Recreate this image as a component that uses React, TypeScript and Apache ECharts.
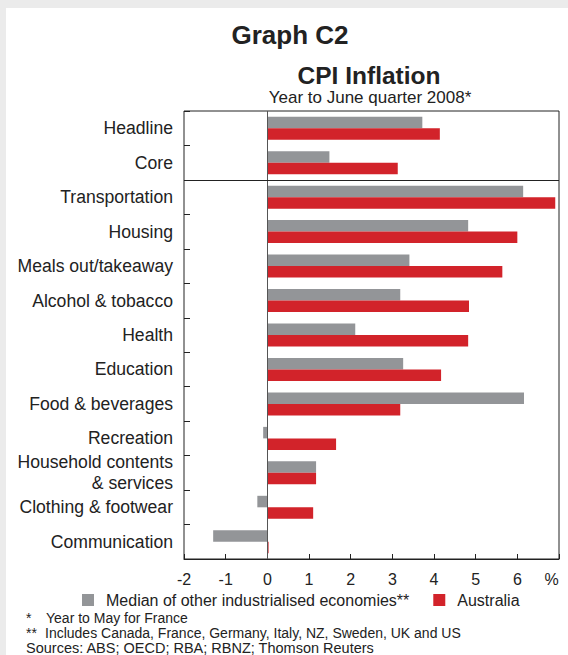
import React, { useEffect, useRef } from "react";
import * as echarts from "echarts";

const categories = [
  "Headline",
  "Core",
  "Transportation",
  "Housing",
  "Meals out/takeaway",
  "Alcohol & tobacco",
  "Health",
  "Education",
  "Food & beverages",
  "Recreation",
  "Household contents\n& services",
  "Clothing & footwear",
  "Communication",
];
const medianValues = [3.72, 1.49, 6.14, 4.82, 3.41, 3.19, 2.11, 3.26, 6.16, -0.1, 1.17, -0.24, -1.3];
const australiaValues = [4.14, 3.13, 6.91, 6.0, 5.64, 4.84, 4.82, 4.17, 3.19, 1.65, 1.17, 1.1, 0.03];
const xTicks = [-2, -1, 0, 1, 2, 3, 4, 5, 6, 7];

const FONT = "'Liberation Sans', Arial, Helvetica, sans-serif";
const GRAY = "#939598";
const RED = "#d2232a";

export default function App() {
  const ref = useRef<HTMLDivElement>(null);
  useEffect(() => {
    document.body.style.margin = "0";
    const chart = echarts.init(ref.current!, undefined, { renderer: "svg" });
    const graphic: any[] = [
      { id: "bg", type: "rect", z: -10, shape: { x: 6, y: 8, width: 562, height: 647 }, style: { fill: "#ffffff" }, silent: true },
      { id: "t1", type: "text", x: 290, y: 35, style: { text: "Graph C2", font: `bold 26px ${FONT}`, fill: "#222", align: "center", verticalAlign: "middle" } },
      { id: "t2", type: "text", x: 369, y: 75, style: { text: "CPI Inflation", font: `bold 24.5px ${FONT}`, fill: "#222", align: "center", verticalAlign: "middle" } },
      { id: "t3", type: "text", x: 370, y: 97, style: { text: "Year to June quarter 2008*", font: `17px ${FONT}`, fill: "#222", align: "center", verticalAlign: "middle" } },
      { id: "f1a", type: "text", x: 26, y: 618, style: { text: "*", font: `14px ${FONT}`, fill: "#222", verticalAlign: "middle" } },
      { id: "f1b", type: "text", x: 46, y: 618, style: { text: "Year to May for France", font: `14px ${FONT}`, fill: "#222", verticalAlign: "middle" } },
      { id: "f2a", type: "text", x: 26, y: 633, style: { text: "**", font: `14px ${FONT}`, fill: "#222", verticalAlign: "middle" } },
      { id: "f2b", type: "text", x: 45, y: 633, style: { text: "Includes Canada, France, Germany, Italy, NZ, Sweden, UK and US", font: `14px ${FONT}`, fill: "#222", verticalAlign: "middle" } },
      { id: "f3", type: "text", x: 26, y: 648, style: { text: "Sources: ABS; OECD; RBA; RBNZ; Thomson Reuters", font: `14.5px ${FONT}`, fill: "#222", verticalAlign: "middle" } },
    ];
    const option: any = {
      animation: false,
      backgroundColor: "#ebebeb",
      textStyle: { fontFamily: FONT },
      graphic,
      grid: { left: 184, right: 9, top: 111, bottom: 96, show: true, borderColor: "#222", borderWidth: 1, backgroundColor: "transparent" },
      legend: {
        left: 82,
        top: 592,
        padding: 0,
        itemWidth: 12,
        itemHeight: 12,
        itemGap: 24,
        icon: "rect",
        textStyle: { fontSize: 16, color: "#222", fontFamily: FONT, padding: [0, 0, 0, 7] },
        data: ["Median of other industrialised economies**", "Australia"],
      },
      xAxis: {
        type: "value",
        min: -2,
        max: 7,
        interval: 1,
        splitLine: { show: false },
        axisLine: { show: true, lineStyle: { color: "#222", width: 1 } },
        axisTick: { show: true, inside: true, length: 5, lineStyle: { color: "#222" } },
        axisLabel: {
          fontSize: 16,
          color: "#222",
          margin: 12,
          fontFamily: FONT,
          formatter: (v: number) => (v === xTicks[xTicks.length - 1] ? "{p|%}" : String(v)),
          rich: { p: { fontSize: 16, color: "#222", fontFamily: FONT, padding: [0, 15, 0, 0] } },
        },
      },
      yAxis: {
        type: "category",
        inverse: true,
        data: categories,
        axisLine: { show: false, onZero: false },
        axisTick: { show: true, inside: true, length: 6, lineStyle: { color: "#222" } },
        axisLabel: { fontSize: 17.6, color: "#222", margin: 11, fontFamily: FONT, lineHeight: 21 },
      },
      series: [
        {
          name: "Median of other industrialised economies**",
          type: "bar",
          data: medianValues,
          barWidth: 11.5,
          barGap: "0%",
          itemStyle: { color: GRAY },
          markLine: {
            silent: true,
            symbol: ["none", "none"],
            label: { show: false },
            lineStyle: { color: "#555", width: 1, type: "solid" },
            data: [{ xAxis: 0 }],
          },
        },
        {
          name: "Australia",
          type: "bar",
          data: australiaValues,
          barWidth: 11.5,
          barGap: "0%",
          itemStyle: { color: RED },
        },
      ],
    };
    chart.setOption(option);
    const yCore = chart.convertToPixel({ yAxisIndex: 0 }, categories[1]) as number;
    const yTrans = chart.convertToPixel({ yAxisIndex: 0 }, categories[2]) as number;
    const ySep = Math.round((yCore + yTrans) / 2) + 0.5;
    const xL = chart.convertToPixel({ xAxisIndex: 0 }, -2) as number;
    const xR = chart.convertToPixel({ xAxisIndex: 0 }, 7) as number;
    chart.setOption({
      graphic: [
        { id: "sep", type: "line", z: 10, shape: { x1: xL, y1: ySep, x2: xR, y2: ySep }, style: { stroke: "#222", lineWidth: 1 } },
      ],
    });
    return () => chart.dispose();
  }, []);
  return <div ref={ref} style={{ width: 568, height: 655 }} />;
}
